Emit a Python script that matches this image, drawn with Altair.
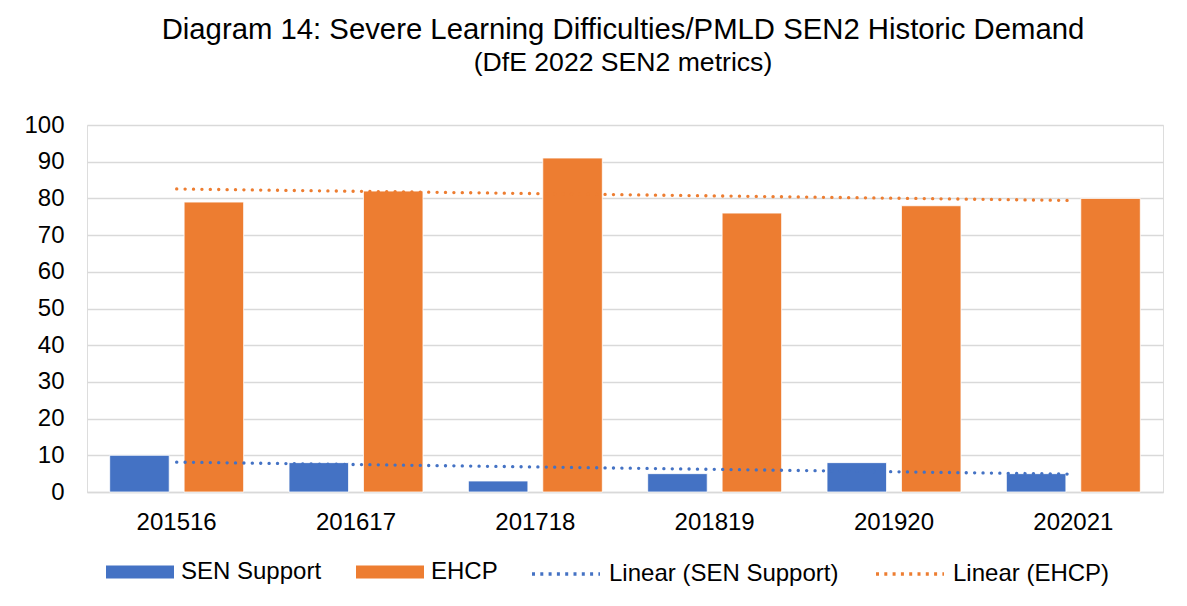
import json
import altair as alt
import pandas as pd

years = ["201516", "201617", "201718", "201819", "201920", "202021"]
sen_support = [10, 8, 3, 5, 8, 5]
ehcp = [79, 82, 91, 76, 78, 80]
series_names = ["SEN Support", "EHCP"]
trend_names = ["Linear (SEN Support)", "Linear (EHCP)"]
colors = ["#4472C4", "#ED7D31"]
y_ticks = [0, 10, 20, 30, 40, 50, 60, 70, 80, 90, 100]

rows = []
for i, yr in enumerate(years):
    rows.append({"year": yr, "idx": i + 1, "series": "SEN Support", "value": sen_support[i]})
    rows.append({"year": yr, "idx": i + 1, "series": "EHCP", "value": ehcp[i]})
df = pd.DataFrame(rows)

FONT = "Liberation Sans"

base = alt.Chart(df)

x_enc = alt.X(
    "year:N",
    sort=years,
    title=None,
    scale=alt.Scale(paddingInner=0.253, paddingOuter=0.1265),
    axis=alt.Axis(
        labelAngle=0,
        labelFontSize=24,
        labelFont=FONT,
        labelColor="#000000",
        ticks=False,
        tickSize=0,
        labelPadding=18,
        domainColor="#D9D9D9",
        domainWidth=1.3,
        grid=False,
    ),
)

y_enc = alt.Y(
    "value:Q",
    title=None,
    scale=alt.Scale(domain=[0, 100], nice=False),
    axis=alt.Axis(
        values=y_ticks,
        labelFontSize=24,
        labelFont=FONT,
        labelColor="#000000",
        labelOverlap=False,
        ticks=False,
        tickSize=0,
        labelPadding=23,
        domain=False,
        grid=True,
        gridColor="#D9D9D9",
        gridWidth=1.3,
    ),
)

legend_common = dict(
    title=None,
    orient="none",
    legendY=413,
    direction="horizontal",
    symbolSize=4624,
    labelFontSize=24,
    labelFont=FONT,
    labelColor="#000000",
    labelOffset=7,
    labelLimit=400,
)

bars = base.mark_bar(stroke="white", strokeWidth=0.8).encode(
    x=x_enc,
    xOffset=alt.XOffset("series:N", sort=series_names, scale=alt.Scale(paddingInner=0.2, paddingOuter=0)),
    y=y_enc,
    fill=alt.Fill(
        "series:N",
        sort=series_names,
        scale=alt.Scale(domain=series_names, range=colors),
        legend=alt.Legend(
            legendX=19,
            columnPadding=34,
            symbolType="M-1,-0.19H1V0.19H-1Z",
            symbolStrokeWidth=0,
            **legend_common,
        ),
    ),
)

trend = (
    base.transform_regression("idx", "value", groupby=["series"])
    .transform_calculate(
        year=f"{json.dumps(years)}[round(datum.idx) - 1]",
        trend="'Linear (' + datum.series + ')'",
    )
    .mark_line(strokeDash=[0.1, 8.3], strokeCap="round", strokeWidth=3.3)
    .encode(
        x=x_enc,
        y=y_enc,
        stroke=alt.Stroke(
            "trend:N",
            sort=trend_names,
            scale=alt.Scale(domain=trend_names, range=colors),
            legend=alt.Legend(
                legendX=443,
                columnPadding=30,
                symbolType="stroke",
                symbolStrokeWidth=3.3,
                symbolDash=[3, 5.3],
                **legend_common,
            ),
        ),
    )
)

chart = (
    alt.layer(bars, trend)
    .resolve_scale(fill="independent", stroke="independent")
    .properties(
        width=1076,
        height=367,
        padding={"left": 15, "top": 8, "right": 10, "bottom": 5},
        title=alt.TitleParams(
            text="Diagram 14: Severe Learning Difficulties/PMLD SEN2 Historic Demand",
            subtitle="(DfE 2022 SEN2 metrics)",
            font=FONT,
            fontSize=29.3,
            fontWeight="normal",
            color="#000000",
            subtitleFont=FONT,
            subtitleFontSize=26.6,
            subtitleColor="#000000",
            subtitlePadding=5,
            anchor="middle",
            dx=-2,
            offset=36,
        ),
    )
    .configure_view(strokeWidth=0, stroke="transparent")
    .configure(background="white")
)

chart.save("out.html", embed_options={"renderer": "svg", "actions": False})
